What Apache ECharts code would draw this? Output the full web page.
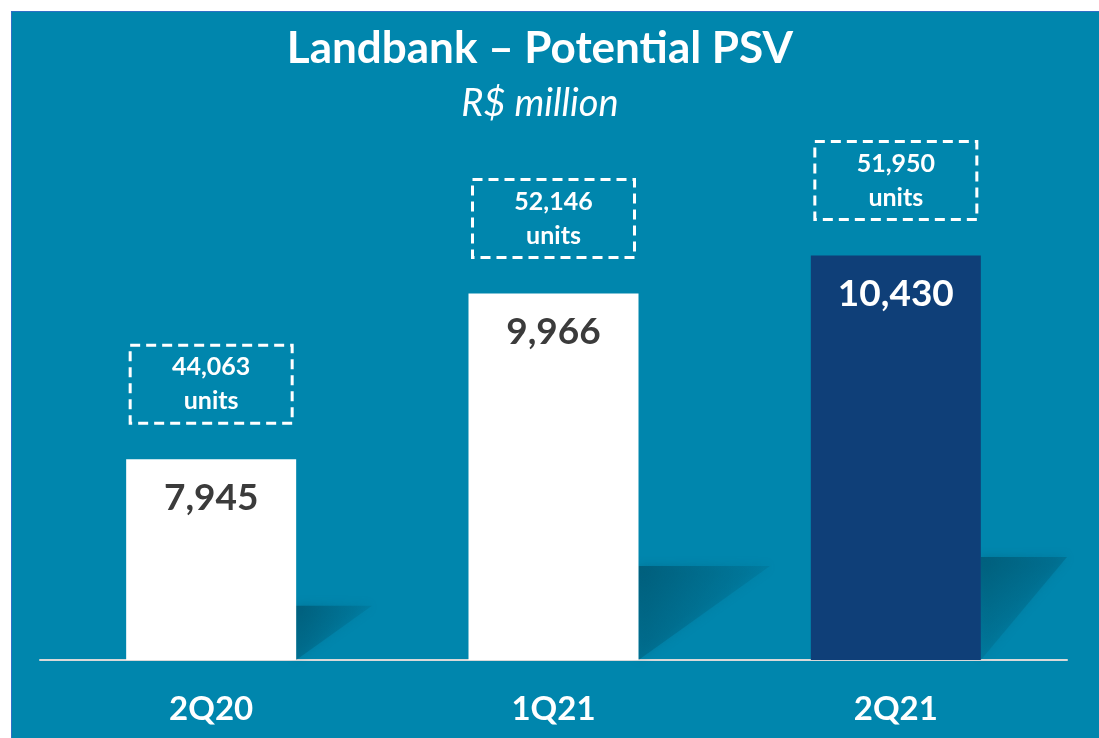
<!DOCTYPE html>
<html>
<head>
<meta charset="utf-8">
<script src="https://cdn.jsdelivr.net/npm/echarts@6/dist/echarts.min.js"></script>
<style>
    html, body { margin: 0; padding: 0; background: #ffffff; }
    #bg {
        position: absolute; left: 11px; top: 11px; right: 0; bottom: 0;
        background: #0086ad; border-left: 1px solid #2f6fc4; border-top: 1px solid #2f6fc4;
    }
    #chart { position: absolute; left: 0; top: 0; width: 1099px; height: 738px; }
</style>
</head>
<body>
<div id="bg"></div>
<div id="chart"></div>
<script>
// chart data
var categories = ['2Q20', '1Q21', '2Q21'];
var psvValues = [7945, 9966, 10430];
var unitValues = [44063, 52146, 51950];

var fontName = 'Lato, "Liberation Sans", sans-serif';
var barColors = ['#ffffff', '#ffffff', '#0f3f78'];
var labelColors = ['#3b3b3b', '#3b3b3b', '#ffffff'];

function fmt(v) {
    return String(v).replace(/\B(?=(\d{3})+(?!\d))/g, ',');
}

var chart = echarts.init(document.getElementById('chart'));

var barData = psvValues.map(function (v, i) {
    return {
        value: v,
        itemStyle: { color: barColors[i] },
        label: { color: labelColors[i] }
    };
});

var option = {
    backgroundColor: 'transparent',
    animation: false,
    title: [{
        text: 'Landbank – Potential PSV',
        left: 535, top: 22, textAlign: 'center',
        textStyle: { color: '#ffffff', fontSize: 44, fontWeight: 'bold', fontFamily: fontName }
    }, {
        text: 'R$ million',
        left: 535, top: 80, textAlign: 'center',
        textStyle: { color: '#ffffff', fontSize: 38, fontStyle: 'italic', fontWeight: 'normal', fontFamily: fontName }
    }],
    grid: { left: 40, right: 32, top: 102, bottom: 78 },
    xAxis: {
        type: 'category',
        data: categories,
        axisLine: { show: true, lineStyle: { color: '#d9d9d9', width: 2 } },
        axisTick: { show: false },
        axisLabel: { color: '#ffffff', fontSize: 33, fontWeight: 'bold', fontFamily: fontName, margin: 33 }
    },
    yAxis: {
        type: 'value', min: 5500, max: 12300, show: false,
        splitLine: { show: false }
    },
    series: [{
        // soft diagonal shadows behind bars
        type: 'custom',
        z: 1,
        silent: true,
        data: psvValues.map(function (v, i) { return [i, v]; }),
        renderItem: function (params, api) {
            var top = api.coord([api.value(0), api.value(1)]);
            var base = api.coord([api.value(0), 5500]);
            var right = top[0] + 85;
            var h = (base[1] - top[1]) * 0.24 + 6;
            var w = h * 1.4;
            var limit = params.coordSys.x + params.coordSys.width;
            var end = Math.min(right + w, limit);
            return {
                type: 'polygon',
                shape: { points: [[right, base[1]], [right, base[1] - h], [end, base[1] - h], [right + (right + w - end) * 0, base[1]]] },
                style: {
                    fill: new echarts.graphic.LinearGradient(0, 0, 1, 1, [
                        { offset: 0, color: 'rgba(0,90,118,0.85)' },
                        { offset: 0.6, color: 'rgba(0,100,130,0.3)' },
                        { offset: 1, color: 'rgba(0,110,140,0)' }
                    ]),
                    shadowBlur: 10,
                    shadowColor: 'rgba(0,90,118,0.5)'
                }
            };
        }
    }, {
        type: 'bar',
        z: 2,
        barWidth: 170,
        data: barData,
        label: {
            show: true,
            position: 'insideTop',
            distance: 20,
            formatter: function (p) { return fmt(p.value); },
            fontSize: 37,
            lineHeight: 38,
            fontWeight: 'bold',
            fontFamily: fontName
        }
    }, {
        // dashed unit boxes above bars
        type: 'scatter',
        symbolSize: 0,
        z: 3,
        itemStyle: { opacity: 1 },
        data: psvValues.map(function (v, i) { return [i, v]; }),
        label: {
            show: true,
            position: 'top',
            distance: 36,
            formatter: function (p) { return fmt(unitValues[p.dataIndex]) + '\nunits'; },
            color: '#ffffff',
            fontSize: 25,
            lineHeight: 34,
            fontWeight: 'bold',
            fontFamily: fontName,
            align: 'center',
            width: 154,
            padding: [5, 4, 5, 4],
            borderColor: '#ffffff',
            borderWidth: 3,
            borderType: [10, 6]
        }
    }]
};

chart.setOption(option);
</script>
</body>
</html>
